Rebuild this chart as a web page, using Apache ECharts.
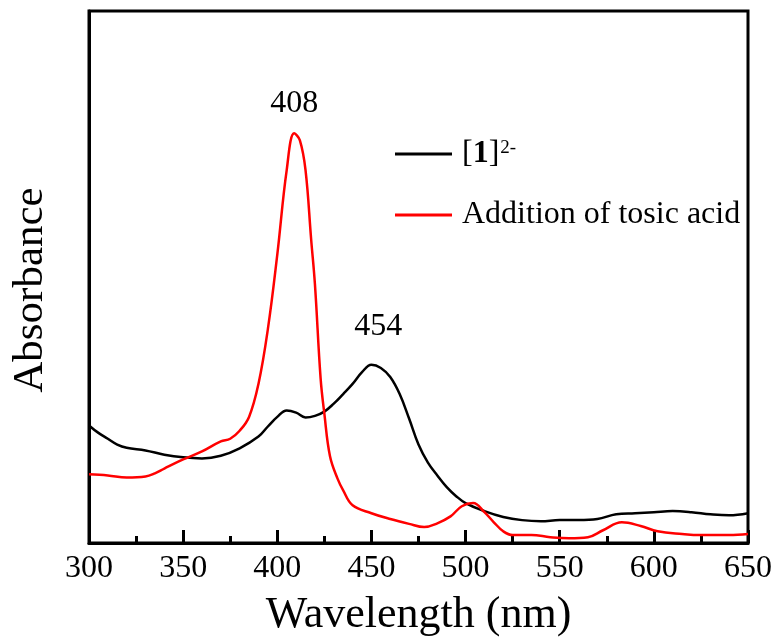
<!DOCTYPE html>
<html>
<head>
<meta charset="utf-8">
<script src="https://cdn.jsdelivr.net/npm/echarts@6/dist/echarts.min.js"></script>
<style>html,body{margin:0;padding:0;background:#fff;}#c{width:775px;height:642px;}</style>
</head>
<body>
<div id="c"></div>
<script>
var wlBlack = [300,305,310,315,320,330,340,350,360,370,380,390,395,400,405,410,415,420,425,430,435,440,445,450,455,460,465,470,475,480,485,490,495,500,510,520,530,540,550,560,570,580,590,600,610,620,630,640,650];
var absBlack = [0.221,0.207,0.196,0.185,0.179,0.174,0.166,0.161,0.159,0.164,0.178,0.200,0.219,0.237,0.249,0.245,0.236,0.239,0.247,0.262,0.280,0.299,0.321,0.335,0.329,0.312,0.280,0.234,0.185,0.151,0.127,0.105,0.088,0.075,0.060,0.049,0.043,0.041,0.043,0.043,0.045,0.054,0.056,0.058,0.060,0.058,0.054,0.052,0.056];
var wlRed = [300,310,320,330,335,340,350,360,370,375,380,385,390,395,400,405,409,412,415,418,420,423,425,428,432,435,440,450,460,470,478,485,492,498,504,510,515,520,525,535,545,555,565,573,583,593,602,615,625,640,650];
var absRed = [0.129,0.127,0.123,0.125,0.131,0.140,0.157,0.172,0.191,0.196,0.211,0.237,0.299,0.402,0.542,0.701,0.770,0.757,0.701,0.570,0.486,0.310,0.243,0.163,0.121,0.099,0.071,0.056,0.045,0.036,0.030,0.037,0.050,0.069,0.075,0.058,0.039,0.022,0.015,0.015,0.011,0.009,0.011,0.024,0.039,0.032,0.022,0.017,0.015,0.015,0.017];
var xTicks = [300,350,400,450,500,550,600,650];
var seriesNames = ['[1]2-', 'Addition of tosic acid'];
var peakLabels = ['408', '454'];

function zip(a, b) { return a.map(function (v, i) { return [v, b[i]]; }); }

var font = 'Liberation Serif';
var chart = echarts.init(document.getElementById('c'), null, {renderer: 'canvas'});
chart.setOption({
  animation: false,
  backgroundColor: '#fff',
  grid: {left: 89, right: 27, top: 11, bottom: 97, show: true, borderColor: '#000', borderWidth: 3, backgroundColor: 'transparent'},
  legend: {
    orient: 'vertical', left: 395, top: 138, itemGap: 29, padding: 0,
    icon: 'rect', itemWidth: 57, itemHeight: 3,
    data: seriesNames,
    textStyle: {fontFamily: font, fontSize: 32, color: '#000', lineHeight: 30,
      rich: {
        f: {fontFamily: font, fontSize: 32, color: '#000', padding: [0, 0, 0, 5]},
        n: {fontFamily: font, fontSize: 32, color: '#000'},
        b: {fontFamily: font, fontSize: 32, color: '#000', fontWeight: 'bold'},
        sup: {fontFamily: font, fontSize: 19, color: '#000', verticalAlign: 'top', padding: [0, 0, 16, 1]}
      }},
    formatter: function (name) {
      if (name === seriesNames[0]) return '{f|[}{b|1}{n|]}{sup|2-}';
      return '{f|' + name + '}';
    }
  },
  xAxis: {
    type: 'value', min: 300, max: 650, interval: 50,
    axisLine: {show: true, lineStyle: {color: '#000', width: 3}},
    axisTick: {show: true, inside: true, length: 13, lineStyle: {color: '#000', width: 3}},
    minorTick: {show: true, splitNumber: 2, length: 7, lineStyle: {color: '#000', width: 3}},
    splitLine: {show: false},
    axisLabel: {fontFamily: font, fontSize: 32, color: '#000', margin: 10,
      customValues: xTicks},
    name: 'Wavelength (nm)', nameLocation: 'middle', nameGap: 50,
    nameTextStyle: {fontFamily: font, fontSize: 44, color: '#000'}
  },
  yAxis: {
    type: 'value', min: 0, max: 1,
    axisLine: {show: true, lineStyle: {color: '#000', width: 3}},
    axisTick: {show: false}, axisLabel: {show: false}, splitLine: {show: false},
    name: 'Absorbance', nameLocation: 'middle', nameGap: 37,
    nameTextStyle: {fontFamily: font, fontSize: 43, color: '#000', padding: [0, 26, 0, 0]}
  },
  series: [
    {
      name: seriesNames[0], type: 'line', data: zip(wlBlack, absBlack),
      smooth: 0.4, showSymbol: false, symbol: 'none',
      lineStyle: {color: '#000', width: 2.5}, itemStyle: {color: '#000'},
      markPoint: {symbol: 'circle', symbolSize: 0,
        data: [{coord: [451, 0.335], value: peakLabels[1]}],
        label: {show: true, position: 'top', distance: 22, offset: [5, 0], formatter: peakLabels[1],
          fontFamily: font, fontSize: 32, color: '#000'}}
    },
    {
      name: seriesNames[1], type: 'line', data: zip(wlRed, absRed),
      smooth: 0.4, showSymbol: false, symbol: 'none',
      lineStyle: {color: '#ff0000', width: 2.5}, itemStyle: {color: '#ff0000'},
      markPoint: {symbol: 'circle', symbolSize: 0,
        data: [{coord: [409, 0.770], value: peakLabels[0]}],
        label: {show: true, position: 'top', distance: 14, formatter: peakLabels[0],
          fontFamily: font, fontSize: 32, color: '#000'}}
    }
  ]
});
</script>
</body>
</html>
